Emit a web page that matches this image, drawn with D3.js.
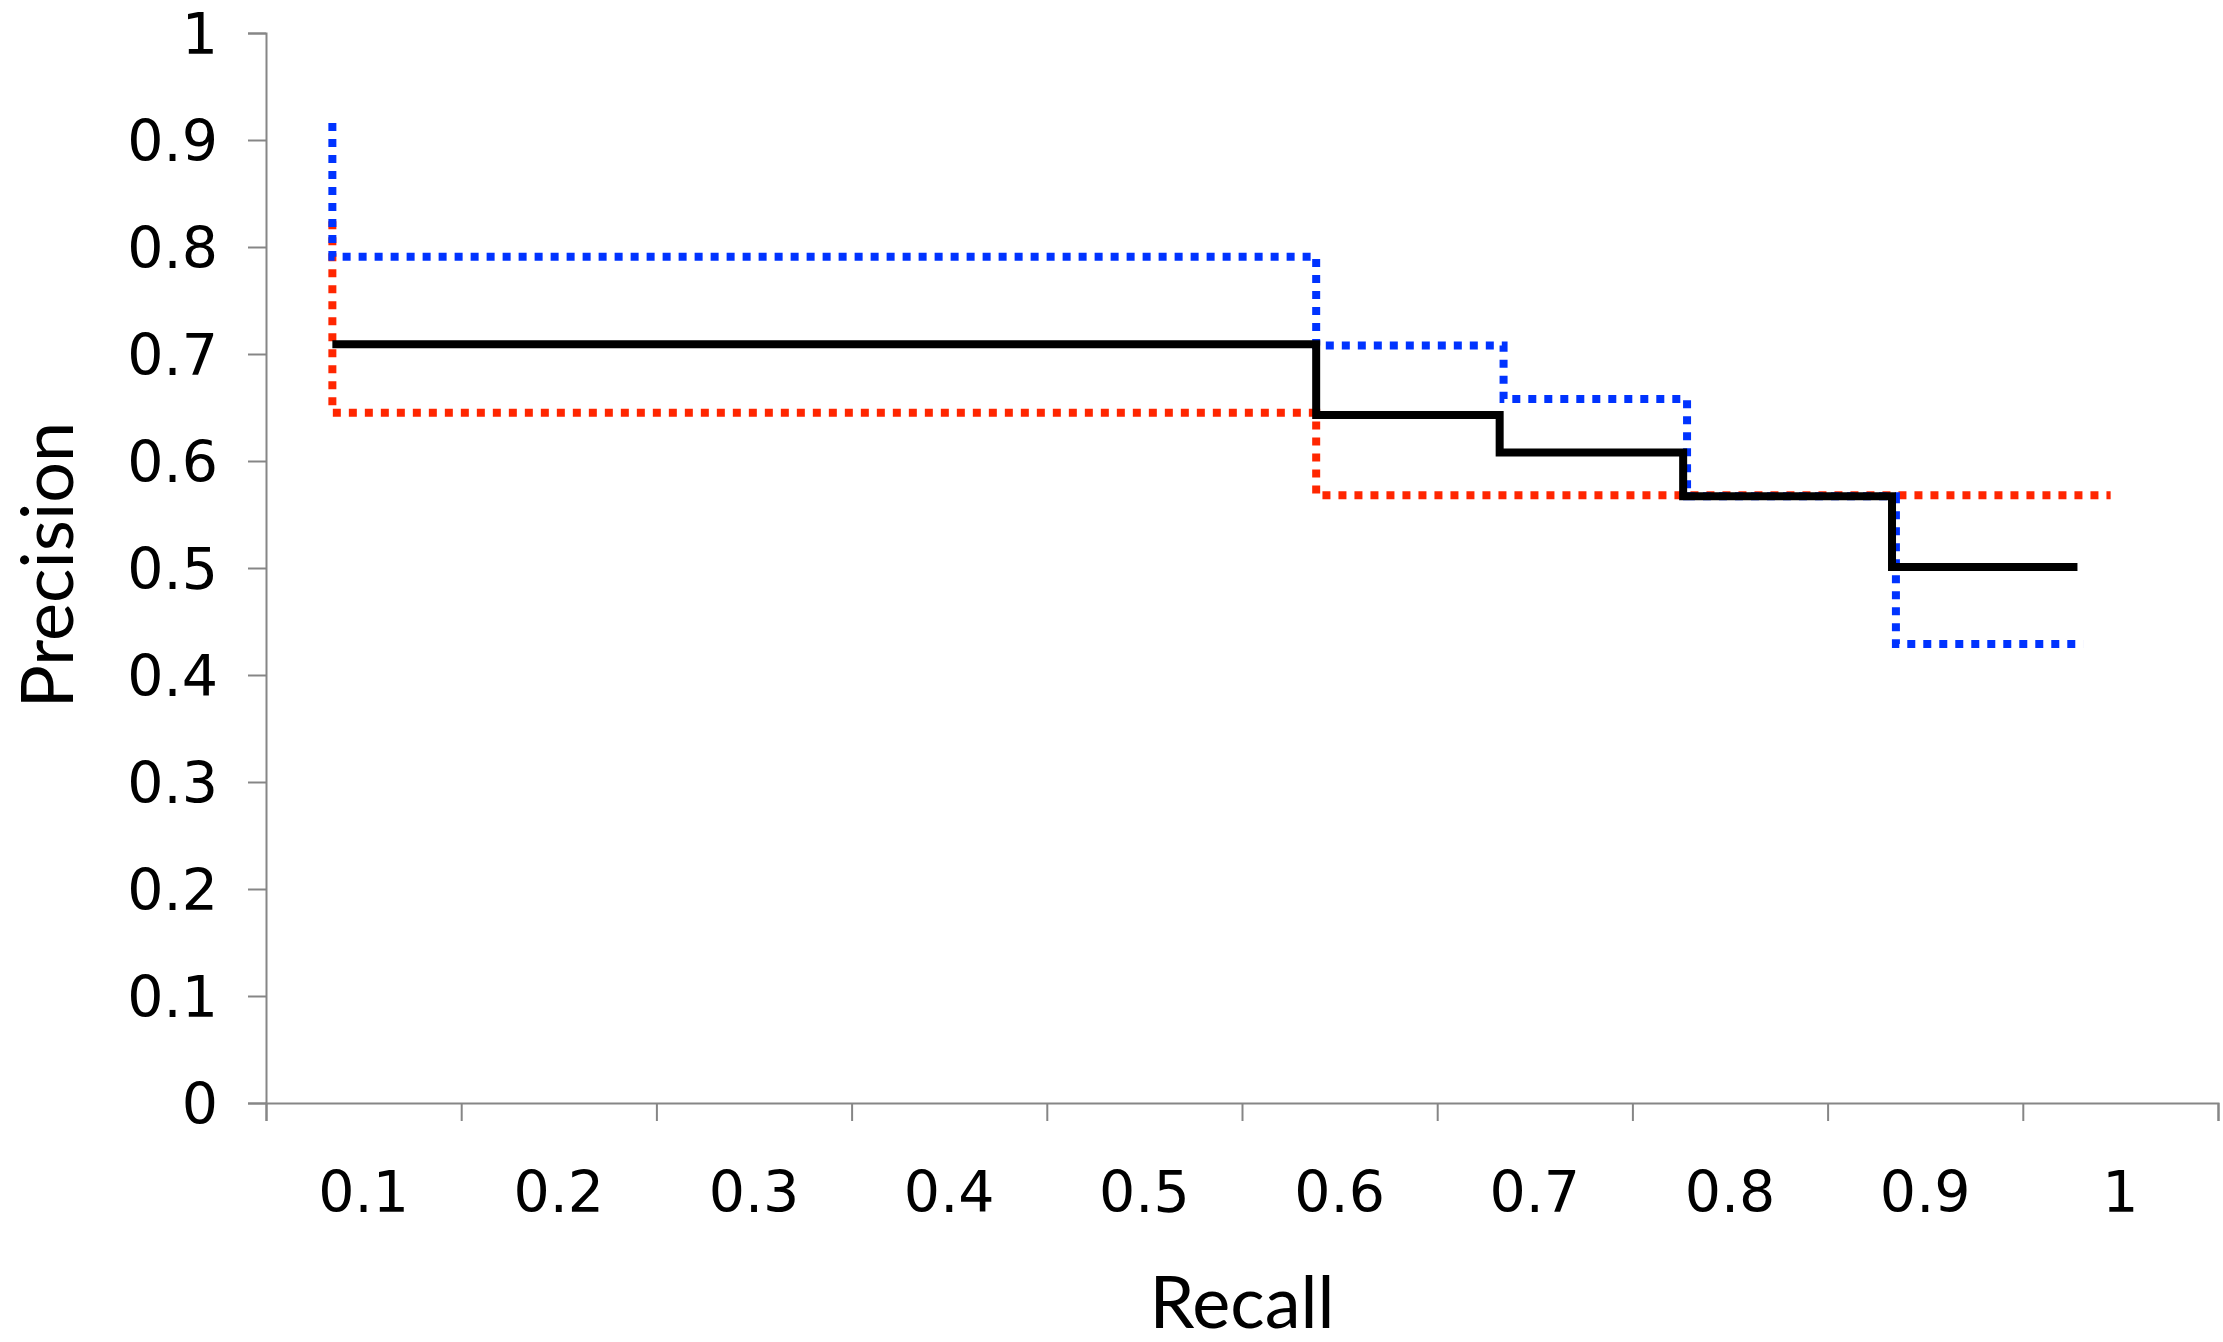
<!DOCTYPE html>
<html>
<head>
<meta charset="utf-8">
<script src="https://cdn.jsdelivr.net/npm/d3@7"></script>
<style>
  html, body { margin: 0; padding: 0; background: #fff; }
  svg { display: block; }
</style>
</head>
<body>
<svg id="chart" width="2223" height="1342"></svg>
<script>
// ---- data ----
const xCategories = ["0.1","0.2","0.3","0.4","0.5","0.6","0.7","0.8","0.9","1"];
const yTicks = [0,0.1,0.2,0.3,0.4,0.5,0.6,0.7,0.8,0.9,1];

const blackRecall    = [0.084, 0.588, 0.588, 0.682, 0.682, 0.776, 0.776, 0.883, 0.883, 0.978];
const blackPrecision = [0.709, 0.709, 0.643, 0.643, 0.608, 0.608, 0.567, 0.567, 0.501, 0.501];

const blueRecall     = [0.084, 0.084, 0.588, 0.588, 0.684, 0.684, 0.778, 0.778, 0.885, 0.885, 0.981];
const bluePrecision  = [0.916, 0.791, 0.791, 0.708, 0.708, 0.658, 0.658, 0.567, 0.567, 0.429, 0.429];

const redRecall      = [0.084, 0.084, 0.588, 0.588, 0.995];
const redPrecision   = [0.824, 0.645, 0.645, 0.568, 0.568];

// ---- layout ----
const svg = d3.select("#chart");
const plotLeft = 266, plotRight = 2218, plotTop = 33, plotBottom = 1103;

const y = d3.scaleLinear().domain([0, 1]).range([plotBottom, plotTop]);
const xBand = d3.scaleBand().domain(xCategories).range([plotLeft, plotRight]);
const x = d3.scaleLinear().domain([0.05, 1.05]).range([plotLeft, plotRight]);

const axisColor = "#868686";

// Y axis
const gy = svg.append("g").attr("transform", `translate(${plotLeft},0)`)
  .call(d3.axisLeft(y).tickValues(yTicks).tickSize(18).tickPadding(30)
        .tickFormat(d => String(+d.toFixed(1))));
gy.select(".domain").attr("stroke", axisColor).attr("stroke-width", 2);
gy.selectAll(".tick line").attr("stroke", axisColor).attr("stroke-width", 2);
gy.selectAll(".tick text")
  .attr("font-family", "'DejaVu Sans', Verdana, sans-serif")
  .attr("font-size", 57).attr("fill", "#000").attr("dy", "0.36em");

// X axis tick marks (category boundaries)
const bounds = d3.range(xCategories.length + 1).map(i => 0.05 + i * 0.1);
const gx = svg.append("g").attr("transform", `translate(0,${plotBottom})`)
  .call(d3.axisBottom(x).tickValues(bounds).tickSize(18).tickFormat(""));
gx.select(".domain").attr("stroke", axisColor).attr("stroke-width", 2);
gx.selectAll(".tick line").attr("stroke", axisColor).attr("stroke-width", 2);

// X axis labels (category centres)
const gxl = svg.append("g").attr("transform", `translate(0,${plotBottom})`)
  .call(d3.axisBottom(xBand).tickSize(0).tickPadding(0));
gxl.select(".domain").remove();
gxl.selectAll(".tick text")
  .attr("font-family", "'DejaVu Sans', Verdana, sans-serif")
  .attr("font-size", 57).attr("fill", "#000")
  .attr("y", 109).attr("dy", 0);

// Axis titles
svg.append("text")
  .attr("x", (plotLeft + plotRight) / 2).attr("y", 1328)
  .attr("text-anchor", "middle")
  .attr("font-family", "Lato, 'Open Sans', sans-serif")
  .attr("font-size", 72).attr("fill", "#000")
  .text("Recall");

svg.append("text")
  .attr("transform", `translate(73,565) rotate(-90)`)
  .attr("text-anchor", "middle")
  .attr("font-family", "Lato, 'Open Sans', sans-serif")
  .attr("font-size", 72).attr("fill", "#000")
  .text("Precision");

// Lines
const line = d3.line().x(d => x(d[0])).y(d => y(d[1]));
function series(rs, ps) { return rs.map((r, i) => [r, ps[i]]); }

svg.append("path").datum(series(redRecall, redPrecision))
  .attr("d", line).attr("fill", "none")
  .attr("stroke", "#ff2600").attr("stroke-width", 8)
  .attr("stroke-dasharray", "8 8");

svg.append("path").datum(series(blueRecall, bluePrecision))
  .attr("d", line).attr("fill", "none")
  .attr("stroke", "#0033ff").attr("stroke-width", 8)
  .attr("stroke-dasharray", "8 8");

svg.append("path").datum(series(blackRecall, blackPrecision))
  .attr("d", line).attr("fill", "none")
  .attr("stroke", "#000").attr("stroke-width", 8)
  .attr("stroke-linejoin", "miter");
</script>
</body>
</html>
